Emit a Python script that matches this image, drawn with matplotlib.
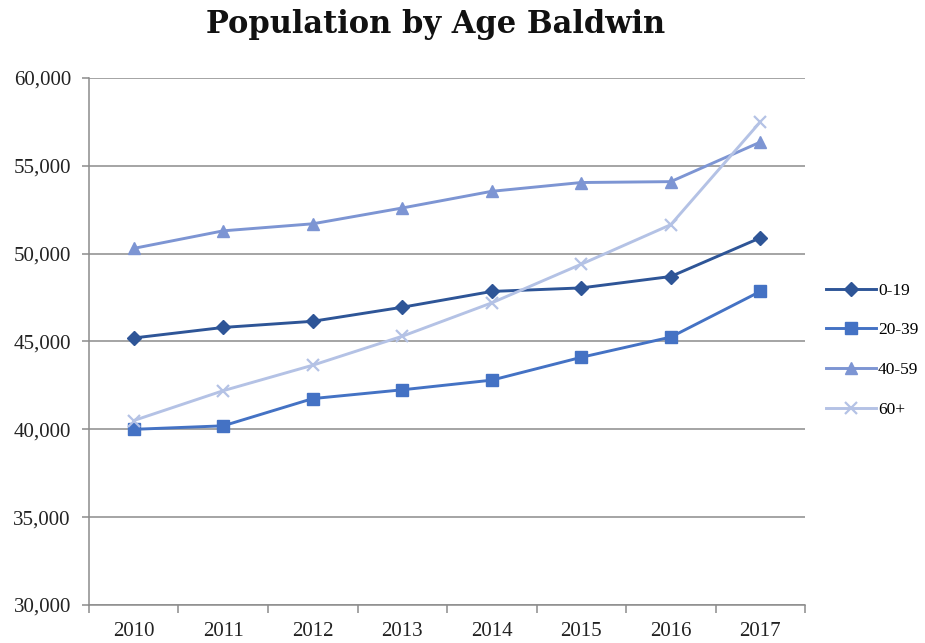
import matplotlib
matplotlib.use("Agg")
import matplotlib.pyplot as plt
import numpy as np
from matplotlib.ticker import FuncFormatter, FixedLocator

years = ["2010", "2011", "2012", "2013", "2014", "2015", "2016", "2017"]
age_0_19 = [45200, 45800, 46150, 46950, 47850, 48050, 48700, 50900]
age_20_39 = [40000, 40200, 41750, 42250, 42800, 44100, 45250, 47850]
age_40_59 = [50300, 51300, 51700, 52600, 53550, 54050, 54100, 56350]
age_60_plus = [40500, 42200, 43650, 45300, 47200, 49400, 51650, 57500]

series = [
    ("0-19", age_0_19, "#2E5597", "D", 7),
    ("20-39", age_20_39, "#4472C4", "s", 8.5),
    ("40-59", age_40_59, "#7D95D3", "^", 9),
    ("60+", age_60_plus, "#B4C2E5", "x", 9),
]

serif = ["Liberation Serif", "DejaVu Serif"]

fig = plt.figure(figsize=(9.25, 6.43), dpi=100)
ax = fig.add_axes([0.0962, 0.0591, 0.7741, 0.8196])

x = np.arange(len(years))
for label, vals, color, marker, ms in series:
    ax.plot(x, vals, color=color, lw=2.1, marker=marker, ms=ms,
            mew=1.6 if marker == "x" else 1, mec=color, mfc=color,
            label=label, zorder=3)

ax.set_xlim(-0.5, len(years) - 0.5)
ax.set_ylim(30000, 60000)
ax.set_yticks(np.arange(30000, 60001, 5000))
ax.yaxis.set_major_formatter(FuncFormatter(lambda v, p: f"{int(v):,}"))
ax.grid(axis="y", color="#8C8C8C", lw=1.1, zorder=0)

ax.set_xticks(x)
ax.set_xticklabels(years)
ax.xaxis.set_minor_locator(FixedLocator(np.arange(-0.5, len(years), 1.0)))
ax.tick_params(axis="x", which="major", length=0, pad=12)
ax.tick_params(axis="x", which="minor", length=6, color="#8C8C8C", width=1.1)
ax.tick_params(axis="y", length=5, color="#8C8C8C", width=1.1, pad=8)

for lbl in ax.get_xticklabels() + ax.get_yticklabels():
    lbl.set_fontfamily(serif)
    lbl.set_fontsize(15)
    lbl.set_color("#222222")

for side in ("top", "right"):
    ax.spines[side].set_visible(False)
for side in ("left", "bottom"):
    ax.spines[side].set_color("#8C8C8C")
    ax.spines[side].set_linewidth(1.1)

fig.text(0.471, 0.962, "Population by Age Baldwin", ha="center", va="center",
         fontsize=22, fontweight="bold", family=["DejaVu Serif"], color="#111111")

leg = ax.legend(loc="upper left", bbox_to_anchor=(1.0, 0.651), frameon=False,
                prop={"family": serif, "size": 12.5}, handlelength=2.9,
                labelspacing=1.35, handletextpad=0.1, borderaxespad=0.8)

fig.savefig("out.png", dpi=100)
